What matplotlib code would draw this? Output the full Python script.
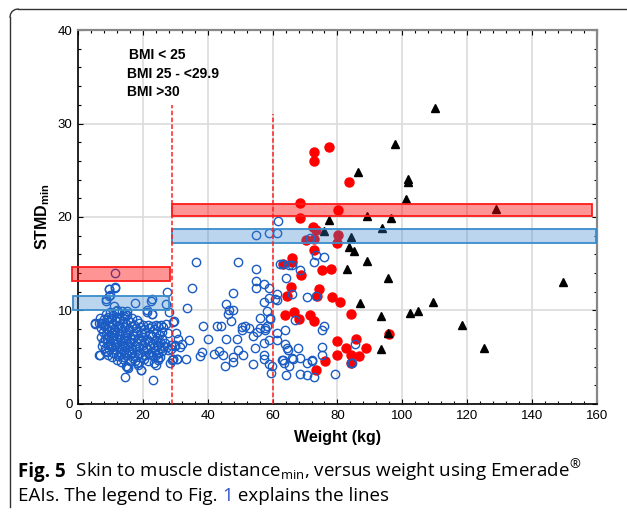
import matplotlib
matplotlib.use("Agg")
import matplotlib.pyplot as plt
from matplotlib.patches import Rectangle
from matplotlib.lines import Line2D
from matplotlib.ticker import MultipleLocator

plt.rcParams['font.family'] = ['Liberation Sans', 'DejaVu Sans']
plt.rcParams['mathtext.fontset'] = 'custom'
plt.rcParams['mathtext.rm'] = 'Liberation Sans'
plt.rcParams['mathtext.bf'] = 'Liberation Sans:bold'

# BMI < 25 (open blue circles)
normal_x = [11.4, 9.5, 11.4, 8.6, 9.9, 17.7, 22.7, 27.3, 5.2, 6.6, 21.2, 22.7, 14.6, 23.2, 19.4, 6.8,
            15.0, 18.1, 9.6, 11.3, 9.6, 8.7, 22.6, 27.2, 21.3, 22.8, 28.0, 11.1, 12.1, 5.1, 7.0, 15.2,
            14.4, 24.2, 27.2, 29.3, 24.9, 27.7, 28.6, 27.7, 29.0, 28.3, 6.4, 8.2, 14.9, 15.4, 19.5,
            17.5, 18.5, 24.2, 24.7,
            8.5, 9.8, 10.9, 12.4, 13.6, 15.0, 9.2, 11.6,
            7.9, 8.8, 10.2, 11.3, 12.0, 13.1, 14.2, 15.5, 16.8, 18.3, 6.9,
            7.4, 8.3, 9.5, 10.6, 11.8, 12.7, 13.8, 14.9, 16.0, 17.2, 18.8, 20.1, 21.5, 22.8, 25.5, 26.3,
            7.2, 8.0, 9.0, 10.1, 11.1, 12.3, 13.3, 14.4, 15.6, 16.6, 17.8, 19.2, 20.5, 21.9, 23.5, 24.6,
            7.6, 8.6, 9.6, 10.5, 11.5, 12.5, 13.5, 14.6, 15.8, 16.9, 18.0, 19.5, 20.8, 22.3, 23.9, 26.0,
            7.1, 8.2, 9.1, 10.3, 11.0, 12.1, 13.0, 14.1, 15.2, 16.3, 17.4, 18.6, 19.9, 21.2, 22.7, 24.4, 25.8,
            7.8, 8.9, 9.9, 10.8, 11.9, 12.9, 13.9, 14.8, 15.9, 17.0, 18.2, 19.3, 20.4, 21.7, 23.1, 24.0, 25.2, 26.8,
            7.3, 8.4, 9.4, 10.4, 11.4, 12.6, 13.7, 14.5, 15.4, 16.5, 17.6, 18.9, 20.0, 21.0, 22.1, 23.3, 24.5,
            25.6, 26.5, 27.4,
            8.8, 9.7, 10.9, 11.7, 12.8, 13.6, 14.7, 15.7, 16.8, 17.9, 19.1, 20.3, 21.4, 22.5, 23.7, 24.8, 25.9,
            9.3, 10.6, 11.6, 12.2, 13.4, 14.3, 15.1, 16.2, 17.3, 18.4, 19.6, 20.7, 21.8, 23.0, 24.2, 25.3,
            12.0, 13.2, 14.0, 16.0, 17.1, 18.7, 20.2, 21.6, 23.4, 24.6,
            29.5, 30.3, 29.8, 28.8, 29.3, 30.5]
normal_y = [14.05, 12.3, 12.4, 11.2, 11.7, 10.8, 11.2, 12.0, 8.7, 8.7, 10.05, 9.6, 2.85, 2.6, 3.6, 5.2,
            4.0, 4.35, 12.3, 12.5, 11.6, 11.05, 11.05, 10.7, 9.8, 9.6, 9.8, 10.5, 10.1, 8.6, 8.7, 9.9,
            9.6, 8.45, 8.6, 8.8, 7.4, 7.6, 6.3, 5.8, 4.7, 4.4, 5.2, 5.7, 4.1, 3.8, 3.6,
            4.55, 4.2, 4.2, 4.7,
            9.6, 9.8, 9.5, 9.7, 9.9, 9.5, 9.3, 9.9,
            9.1, 9.0, 9.2, 9.0, 9.3, 9.1, 9.4, 9.0, 9.2, 9.0, 9.2,
            8.7, 8.5, 8.8, 8.6, 8.9, 8.5, 8.7, 8.6, 8.8, 8.5, 8.7, 8.5, 8.4, 8.3, 8.4, 8.2,
            8.1, 8.3, 8.0, 8.2, 8.0, 8.3, 8.1, 8.2, 8.0, 8.3, 8.1, 8.2, 8.0, 8.1, 8.0, 8.3,
            7.7, 7.5, 7.8, 7.6, 7.9, 7.5, 7.8, 7.6, 7.9, 7.5, 7.8, 7.6, 7.7, 7.5, 7.6, 7.7,
            7.2, 7.0, 7.3, 7.1, 7.4, 7.0, 7.3, 7.1, 7.4, 7.0, 7.3, 7.1, 7.2, 7.0, 7.3, 7.1, 7.0,
            6.6, 6.9, 6.5, 6.8, 6.6, 6.9, 6.5, 6.8, 6.6, 6.9, 6.5, 6.8, 6.6, 6.7, 6.5, 6.8, 6.6, 6.5,
            6.2, 6.0, 6.3, 6.1, 6.4, 6.0, 6.3, 6.1, 6.4, 6.0, 6.2, 6.1, 6.3, 6.0, 6.2, 6.1, 6.3,
            6.0, 6.2, 6.1,
            5.6, 5.9, 5.5, 5.8, 5.6, 5.9, 5.5, 5.8, 5.6, 5.9, 5.5, 5.7, 5.9, 5.6, 5.8, 5.5, 5.7,
            5.2, 5.0, 5.3, 5.1, 5.3, 5.0, 5.2, 5.4, 5.1, 5.3, 5.0, 5.2, 5.4, 5.1, 5.2, 5.0,
            4.7, 4.5, 4.8, 4.6, 4.9, 4.5, 4.8, 4.6, 4.4, 4.9,
            8.9, 7.6, 6.3, 5.9, 4.8, 4.8]

# BMI 25 - <29.9 (open blue circles, weight 29-90 kg)
mid_x = [36.4, 49.2, 35.0, 33.7, 54.8, 54.8, 54.8, 57.3, 58.9, 47.8, 45.5, 46.6, 47.9, 46.4, 47.1,
         38.4, 42.8, 44.1, 40.0, 30.9, 32.0, 34.3, 29.9, 31.5, 29.2, 30.4, 33.2, 38.1, 37.6, 42.0,
         43.6, 44.8, 47.9, 45.3, 47.9, 49.4, 51.0, 48.9, 45.5, 50.5, 51.5, 52.8, 50.5, 54.1, 55.1,
         56.1, 57.7, 58.2, 54.6, 57.4, 58.8, 59.2, 58.2, 57.3, 59.0, 53.9, 57.2, 57.4, 59.0, 59.5,
         59.8, 54.8, 59.0, 61.3, 61.6,
         63.1, 65.9, 68.4, 66.1, 61.5, 61.3, 64.0, 72.8, 73.4, 75.7, 70.7, 66.9, 63.8, 61.5, 61.5,
         63.8, 64.6, 67.9, 63.1, 63.5, 65.1, 65.9, 64.1, 68.4, 70.5, 72.8, 70.7, 72.3, 75.1, 75.7,
         75.1, 75.1, 79.2, 84.4, 85.4, 71.5, 62.3, 65.1, 60.7, 56.1, 59.2, 57.7, 64.4, 66.4, 68.4,
         72.0, 62.8, 73.4, 84.2]
mid_y = [15.2, 15.2, 12.4, 10.3, 14.4, 13.2, 12.4, 12.8, 12.4, 11.9, 10.7, 10.0, 10.0, 9.6, 8.9,
         8.3, 8.3, 8.3, 6.9, 7.0, 6.4, 6.8, 6.2, 6.1, 4.8, 4.8, 4.85, 5.6, 5.1, 5.3,
         5.7, 5.2, 5.0, 4.1, 4.5, 5.8, 5.2, 6.9, 6.9, 7.9, 8.3, 8.1, 8.2, 7.3, 7.7,
         8.1, 7.9, 8.3, 6.0, 6.5, 6.8, 9.1, 9.9, 10.9, 11.3, 4.3, 5.2, 4.8, 4.3, 3.3,
         4.1, 18.1, 18.25, 18.25, 19.6,
         15.0, 14.9, 14.3, 11.8, 11.8, 11.1, 13.5, 15.2, 15.9, 15.7, 11.4, 9.0, 7.9, 7.6, 6.8,
         6.4, 5.8, 5.95, 4.7, 4.35, 4.1, 4.9, 3.1, 3.2, 3.1, 2.9, 4.35, 4.6, 6.1, 8.3,
         7.9, 5.2, 3.2, 4.4, 6.4, 17.8, 15.0, 14.9, 11.2, 9.2, 9.2, 8.1, 6.0, 4.8, 4.9,
         4.7, 4.7, 11.5, 4.4]

# BMI >30 (red dots)
high_x = [72.9, 72.9, 77.5, 83.7, 68.4, 68.4, 80.3, 72.4, 73.5, 72.9, 70.3, 80.3, 79.8, 72.9, 63.1,
          66.1, 66.1, 68.9, 75.1, 77.9, 65.7, 74.2, 64.3, 73.8, 78.4, 80.8, 63.8, 66.6, 68.0, 71.5,
          72.9, 84.2, 79.8, 85.6, 82.5, 88.8, 79.8, 84.2, 86.6, 76.1, 73.3, 95.8, 84.2]
high_y = [26.9, 26.0, 27.45, 23.7, 21.5, 19.9, 20.7, 18.9, 18.6, 17.6, 17.5, 18.1, 17.25, 16.5, 15.0,
          15.2, 15.6, 13.8, 14.3, 14.4, 12.5, 12.3, 11.55, 11.6, 11.4, 10.9, 9.5, 9.8, 9.1, 9.5,
          8.9, 9.6, 6.7, 6.9, 6.0, 6.0, 5.2, 5.2, 5.1, 4.6, 3.6, 7.45, 4.4]

# black triangles
obese_x = [110.1, 97.8, 86.4, 101.9, 101.9, 101.0, 128.8, 89.0, 96.4, 77.4, 76.0, 93.8, 84.1, 83.6,
           85.1, 89.2, 82.9, 95.7, 149.6, 87.0, 109.4, 93.3, 102.4, 104.7, 118.4, 95.7, 93.3, 125.1]
obese_y = [31.7, 27.8, 24.85, 24.1, 23.7, 21.9, 20.9, 20.1, 19.9, 19.7, 18.5, 18.8, 17.9, 16.8,
           16.4, 15.3, 14.4, 13.5, 13.1, 10.8, 10.9, 9.45, 9.7, 9.95, 8.45, 7.6, 5.85, 5.95]

# bands: (x0, x1, y0, y1)
red_bands = [(-1.7, 28.5, 13.2, 14.7), (28.9, 158.4, 20.1, 21.35)]
blue_bands = [(-1.5, 28.1, 10.05, 11.6), (28.9, 159.7, 17.2, 18.75)]
cut_x = [29, 60]
cut_top = [32, 31]
bmi_labels = ['BMI < 25', 'BMI 25 - <29.9', 'BMI >30']

fig = plt.figure(figsize=(6.27, 5.13), dpi=100)
ax = fig.add_axes([0.1244, 0.2125, 0.8276, 0.729])

blue = '#1a5cc4'
ax.plot(high_x, high_y, 'o', color='#ff0000', ms=6.5, mec='#ff0000', zorder=3)
ax.plot(normal_x + mid_x, normal_y + mid_y, 'o', mfc='none', mec=blue, ms=6, mew=1.0, zorder=4)
ax.plot(obese_x, obese_y, '^', color='black', ms=5.5, zorder=5)

for x0, x1, y0, y1 in red_bands:
    ax.add_patch(Rectangle((x0, y0), x1 - x0, y1 - y0, facecolor=(1, 0, 0, 0.42),
                           edgecolor='#ff1a1a', lw=1.3, zorder=6, clip_on=False))
for x0, x1, y0, y1 in blue_bands:
    ax.add_patch(Rectangle((x0, y0), x1 - x0, y1 - y0, facecolor=(0.2, 0.5, 0.8, 0.33),
                           edgecolor='#3a8ccc', lw=1.3, zorder=6, clip_on=False))
for cx, top in zip(cut_x, cut_top):
    ax.plot([cx, cx], [0, top], color='#ff2020', ls=(0, (3, 1.5)), lw=1.1, zorder=7)

ax.text(15.6, 36.9, bmi_labels[0], fontsize=10, fontweight='bold')
ax.text(15.1, 34.85, bmi_labels[1], fontsize=10, fontweight='bold')
ax.text(15.1, 32.9, bmi_labels[2], fontsize=10, fontweight='bold')

ax.set_xlim(0, 160)
ax.set_ylim(0, 40)
ax.xaxis.set_major_locator(MultipleLocator(20))
ax.xaxis.set_minor_locator(MultipleLocator(4))
ax.yaxis.set_major_locator(MultipleLocator(10))
ax.yaxis.set_minor_locator(MultipleLocator(2))
ax.tick_params(which='both', direction='in', top=True, right=True, labelsize=9.5, color='black')
ax.tick_params(which='major', length=3.5, width=0.8, pad=4)
ax.tick_params(which='minor', length=2.5, width=0.8)
ax.grid(True, which='major', color='#dcdcdc', lw=1.2, zorder=0)
ax.set_axisbelow(True)
for side in ['left', 'bottom']:
    ax.spines[side].set_linewidth(1.2)
    ax.spines[side].set_color('black')
for side in ['top', 'right']:
    ax.spines[side].set_linewidth(1.6)
    ax.spines[side].set_color('#888888')

ax.set_xlabel('Weight (kg)', fontsize=11.5, fontweight='bold', labelpad=6)
ax.set_ylabel(r'STMD$_{\mathbf{min}}$', fontsize=11.5, fontweight='bold', labelpad=4)

# outer frame of the figure panel
fig.add_artist(Line2D([18 / 627, 1.0], [1 - 9 / 513, 1 - 9 / 513], color='#333333', lw=1.0))
fig.add_artist(Line2D([10 / 627, 10 / 627], [1 - 17 / 513, 1 - 507 / 513], color='#333333', lw=1.0))
corner_x = [10, 10.6, 12.3, 14.9, 18]
corner_y = [17, 13.9, 11.3, 9.6, 9]
fig.add_artist(Line2D([v / 627 for v in corner_x], [1 - v / 513 for v in corner_y],
                      color='#333333', lw=1.0))

# caption
cap_font = ['Open Sans', 'DejaVu Sans']
cap_size = 13.5
plt.rcParams['mathtext.rm'] = 'Open Sans'
t1 = fig.text(18 / 627, 1 - 477 / 513, 'Fig. 5', fontsize=cap_size, fontweight='bold', family=cap_font)
t2 = fig.text(0, 0, r'  Skin to muscle distance$_{\mathrm{min}}$, versus weight using Emerade$^{\circledR}$',
              fontsize=cap_size, family=cap_font)
fig.canvas.draw()
bb = t1.get_window_extent()
t2.set_position((bb.x1 / fig.bbox.width, 1 - 477 / 513))
l2 = 1 - 501 / 513
p1 = fig.text(18 / 627, l2, 'EAIs. The legend to Fig. ', fontsize=cap_size, family=cap_font)
fig.canvas.draw()
x_next = p1.get_window_extent().x1 / fig.bbox.width
p2 = fig.text(x_next, l2, '1', fontsize=cap_size, family=cap_font, color='#3355cc')
fig.canvas.draw()
x_next = p2.get_window_extent().x1 / fig.bbox.width
fig.text(x_next, l2, ' explains the lines', fontsize=cap_size, family=cap_font)

fig.savefig('out.png', dpi=100)
